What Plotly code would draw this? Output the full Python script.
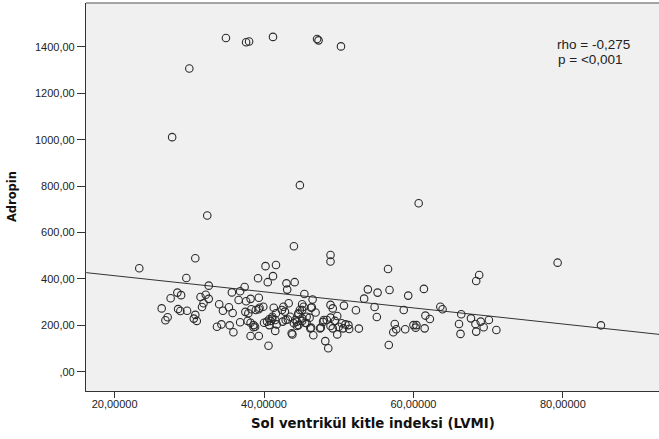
import plotly.graph_objects as go

# LVMI (x) and Adropin (y) values
lvmi = [34.9, 37.6, 38.0, 41.2, 47.1, 47.3, 30.0, 27.7, 44.8, 32.4, 50.3, 60.7,
        23.3, 30.8, 29.6, 28.4, 27.5, 28.9, 26.3, 28.5, 28.8, 29.7, 27.1, 26.8, 30.8, 30.6, 31.0,
        32.6, 31.5, 32.2, 32.6, 31.7, 31.9,
        34.0, 34.5, 35.3, 35.8, 33.7, 34.3, 35.4, 35.9,
        35.7, 36.8, 37.4, 36.6, 37.6, 38.2, 39.3,
        37.5, 38.3, 38.9, 39.3, 37.9,
        37.8, 38.2, 36.8, 38.6, 38.8, 38.6, 38.2, 39.3,
        39.2, 40.2, 41.6, 41.2, 40.5,
        44.0, 43.0, 44.1, 43.1,
        39.9, 39.4, 41.3, 42.6, 43.3, 41.6, 42.8, 42.4, 41.1, 40.7,
        40.0, 40.4, 41.1, 41.5, 40.9, 41.7, 40.7, 41.5, 40.6,
        42.9, 43.8, 43.5, 44.2, 44.0, 44.6, 44.4, 45.1, 42.5, 43.2,
        44.6, 45.1, 45.3, 45.1, 45.4, 46.5, 45.7, 46.4, 46.9, 46.3, 44.8, 44.6, 45.1, 46.1,
        45.7, 46.2, 46.6, 44.4, 45.5, 46.3,
        47.5, 48.0, 48.2, 48.6, 48.9, 48.9,
        48.9, 49.2, 50.7, 52.3, 53.9, 53.4, 55.2, 54.8, 55.1, 52.7,
        47.6, 47.9, 48.4, 48.9, 49.8, 49.5, 48.9, 49.2, 50.0, 50.4, 50.9, 51.3, 50.6, 51.4, 49.8, 43.7,
        56.6, 56.8, 59.3, 61.4, 58.7, 63.6, 63.9, 61.6, 62.2, 57.5, 57.7, 57.3, 58.9, 60.0, 60.4, 60.3, 61.5, 56.7,
        66.4, 66.1, 66.3,
        68.8, 68.4, 79.3, 67.7, 68.3, 69.0, 70.1, 69.4, 71.1, 68.4, 85.1]

adropin = [1438, 1420, 1423, 1443, 1434, 1428, 1307, 1011, 804, 673, 1402, 726,
           446, 489, 404, 341, 317, 330, 273, 270, 262, 263, 235, 222, 245, 229, 219,
           371, 322, 332, 314, 279, 295,
           291, 263, 278, 253, 194, 204, 200, 170,
           342, 347, 365, 309, 304, 314, 319,
           258, 269, 266, 269, 252,
           219, 211, 213, 192, 194, 201, 154, 154,
           403, 455, 460, 412, 386,
           541, 381, 386, 354,
           280, 276, 276, 280, 295, 252, 259, 266, 237, 226,
           211, 216, 229, 223, 219, 204, 201, 176, 112,
           223, 161, 237, 223, 209, 201, 216, 219, 216, 225,
           252, 266, 280, 291, 335, 311, 237, 278, 255, 276, 266, 248, 230, 233,
           209, 187, 157, 197, 211, 190,
           187, 223, 132, 101, 503, 475,
           288, 273, 285, 265, 355, 315, 341, 279, 236, 186,
           190, 215, 223, 233, 240, 219, 197, 187, 194, 209, 204, 201, 187, 184, 161, 166,
           443, 352, 328, 357, 266, 280, 269, 242, 227, 206, 183, 170, 183, 201, 201, 190, 187, 115,
           248, 206, 163,
           417, 391, 470, 230, 206, 216, 223, 192, 180, 173, 200]

# Fit line (total) end points
fit_x = [16.2, 92.9]
fit_y = [427, 161]

x_ticks = [20, 40, 60, 80]
x_ticktext = ["20,00000", "40,00000", "60,00000", "80,00000"]
y_ticks = [0, 200, 400, 600, 800, 1000, 1200, 1400]
y_ticktext = [",00", "200,00", "400,00", "600,00", "800,00", "1000,00", "1200,00", "1400,00"]

stats_lines = ["rho = -0,275", "p = <0,001"]
x_title = "Sol ventrikül kitle indeksi (LVMI)"
y_title = "Adropin"

fig = go.Figure()
fig.add_trace(go.Scatter(x=fit_x, y=fit_y, mode="lines",
                         line=dict(color="#333333", width=1), showlegend=False, hoverinfo="skip"))
fig.add_trace(go.Scatter(x=lvmi, y=adropin, mode="markers",
                         marker=dict(symbol="circle-open", size=7.5, color="#2a2a2a",
                                     line=dict(width=1.1)),
                         showlegend=False))

tick_font = dict(family="Liberation Sans, Arial, sans-serif", size=11, color="#222222")
stat_font = dict(family="Liberation Sans, Arial, sans-serif", size=13.5, color="#222222")
fig.update_layout(
    width=659, height=439,
    margin=dict(l=86, r=0, t=3, b=48),
    paper_bgcolor="white", plot_bgcolor="#f0f0f0",
    xaxis=dict(range=[16.17, 92.87], tickvals=x_ticks, ticktext=x_ticktext,
               showgrid=False, zeroline=False, showline=True, linecolor="#333333", linewidth=1.2,
               ticks="outside", ticklen=6, tickcolor="#333333", tickfont=tick_font,
               ticklabelstandoff=-3),
    yaxis=dict(range=[-83, 1589], tickvals=y_ticks, ticktext=y_ticktext,
               showgrid=False, zeroline=False, showline=True, linecolor="#333333", linewidth=1.2,
               ticks="outside", ticklen=8, tickcolor="#333333", tickfont=tick_font),
    shapes=[dict(type="line", xref="paper", yref="paper", x0=0, x1=1, y0=1, y1=1,
                 line=dict(color="#888888", width=1.5))],
    annotations=[
        dict(text=stats_lines[0], xref="paper", yref="paper", x=0.885, y=0.8943,
             xanchor="center", yanchor="middle", showarrow=False, borderpad=0,
             font=stat_font),
        dict(text=stats_lines[1], xref="paper", yref="paper", x=0.881, y=0.8545,
             xanchor="center", yanchor="middle", showarrow=False, borderpad=0,
             font=stat_font),
        dict(text="<b>" + x_title + "</b>", xref="paper", yref="paper", x=0.5, y=-0.085,
             xanchor="center", yanchor="middle", showarrow=False,
             font=dict(family="DejaVu Sans, Verdana, sans-serif", size=13.3, color="#111111")),
        dict(text="<b>" + y_title + "</b>", xref="paper", yref="paper", x=-0.129, y=0.5,
             xanchor="center", yanchor="middle", showarrow=False, textangle=-90,
             font=dict(family="DejaVu Sans, Verdana, sans-serif", size=11.5, color="#111111")),
    ],
)

fig.write_html("out.html")
